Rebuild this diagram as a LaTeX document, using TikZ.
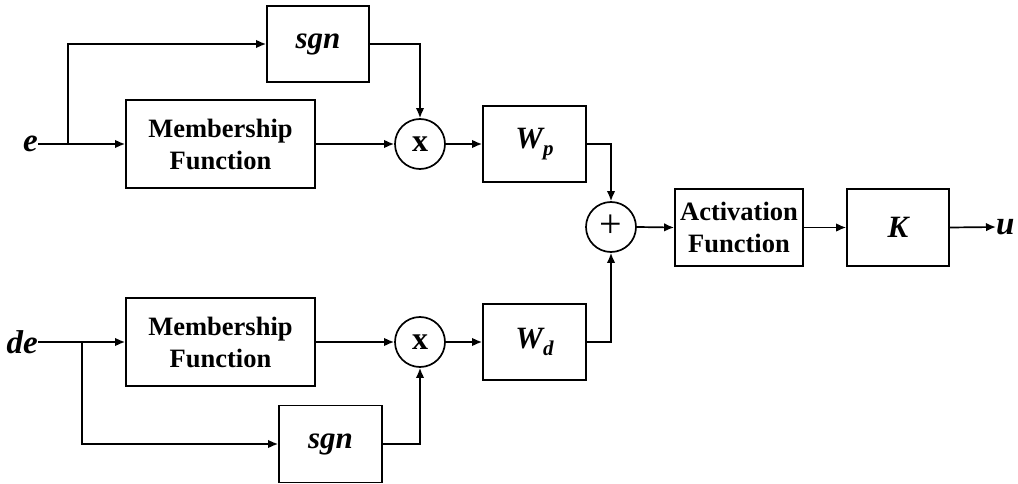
\documentclass[tikz,border=0pt]{standalone}
\usepackage{fontspec}
\setmainfont{Liberation Serif}
\usetikzlibrary{arrows.meta}
\begin{document}
\begin{tikzpicture}[x=1pt,y=-1pt,
  blk/.style={draw, line width=1.7pt, inner sep=0pt, align=center, font=\bfseries\fontsize{26.5}{32}\selectfont},
  op/.style={draw, circle, line width=1.7pt, minimum size=50pt, inner sep=0pt},
  conn/.style={line width=1.7pt, -{Latex[length=10pt,width=8.5pt]}},
  lbl/.style={inner sep=0pt, font=\bfseries\itshape\fontsize{33}{33}\selectfont}]
\useasboundingbox (0,0) rectangle (1018,484);
% top branch
\node[lbl, anchor=east] (e) at (38,144) {e};
\node[blk, minimum width=189pt, minimum height=88pt] (mfT) at (220.5,144) {Membership\\Function};
\node[blk, minimum width=102pt, minimum height=76pt, font=\bfseries\itshape\fontsize{31}{31}\selectfont] (sgnT) at (318,44) {sgn};
\node[op, font=\bfseries\fontsize{32}{32}\selectfont] (mulT) at (420,144) {x};
\node[blk, minimum width=103pt, minimum height=76pt, font=\bfseries\itshape\fontsize{31}{31}\selectfont] (Wp) at (534.5,144) {W\raisebox{-7pt}{\fontsize{21}{21}\selectfont p}};
% bottom branch
\node[lbl, anchor=east] (de) at (38,342) {de};
\node[blk, minimum width=189pt, minimum height=88pt] (mfB) at (220.5,342) {Membership\\Function};
\node[blk, minimum width=103pt, minimum height=77pt, font=\bfseries\itshape\fontsize{31}{31}\selectfont] (sgnB) at (330.5,444) {sgn};
\node[op, font=\bfseries\fontsize{32}{32}\selectfont] (mulB) at (420,342) {x};
\node[blk, minimum width=103pt, minimum height=76pt, font=\bfseries\itshape\fontsize{31}{31}\selectfont] (Wd) at (534.5,342) {W\raisebox{-7pt}{\fontsize{21}{21}\selectfont d}};
% output
\node[op, font=\fontsize{40}{40}\selectfont] (plus) at (611,227) {\raisebox{2pt}{+}};
\node[blk, minimum width=128pt, minimum height=77pt] (act) at (739,227.5) {Activation\\Function};
\node[blk, minimum width=102pt, minimum height=77pt, font=\bfseries\itshape\fontsize{31}{31}\selectfont] (K) at (898,227.5) {K};
\node[lbl, anchor=west] (u) at (996,227) {u};
\coordinate (brT) at (68,144);
\coordinate (brB) at (82,342);
% connectors
\draw[conn] (e.east) -- (mfT.west);
\draw[conn] (brT) |- (sgnT.west);
\draw[conn] (mfT.east) -- (mulT.west);
\draw[conn] (sgnT.east) -| (mulT.north);
\draw[conn] (mulT.east) -- (Wp.west);
\draw[conn] (Wp.east) -| (plus.north);
\draw[conn] (de.east) -- (mfB.west);
\draw[conn] (brB) |- (sgnB.west);
\draw[conn] (mfB.east) -- (mulB.west);
\draw[conn] (sgnB.east) -| (mulB.south);
\draw[conn] (mulB.east) -- (Wd.west);
\draw[conn] (Wd.east) -| (plus.south);
\draw[conn] (plus.east) -- (act.west);
\draw[conn] (act.east) -- (K.west);
\draw[conn] (K.east) -- (u.west);
\end{tikzpicture}
\end{document}
